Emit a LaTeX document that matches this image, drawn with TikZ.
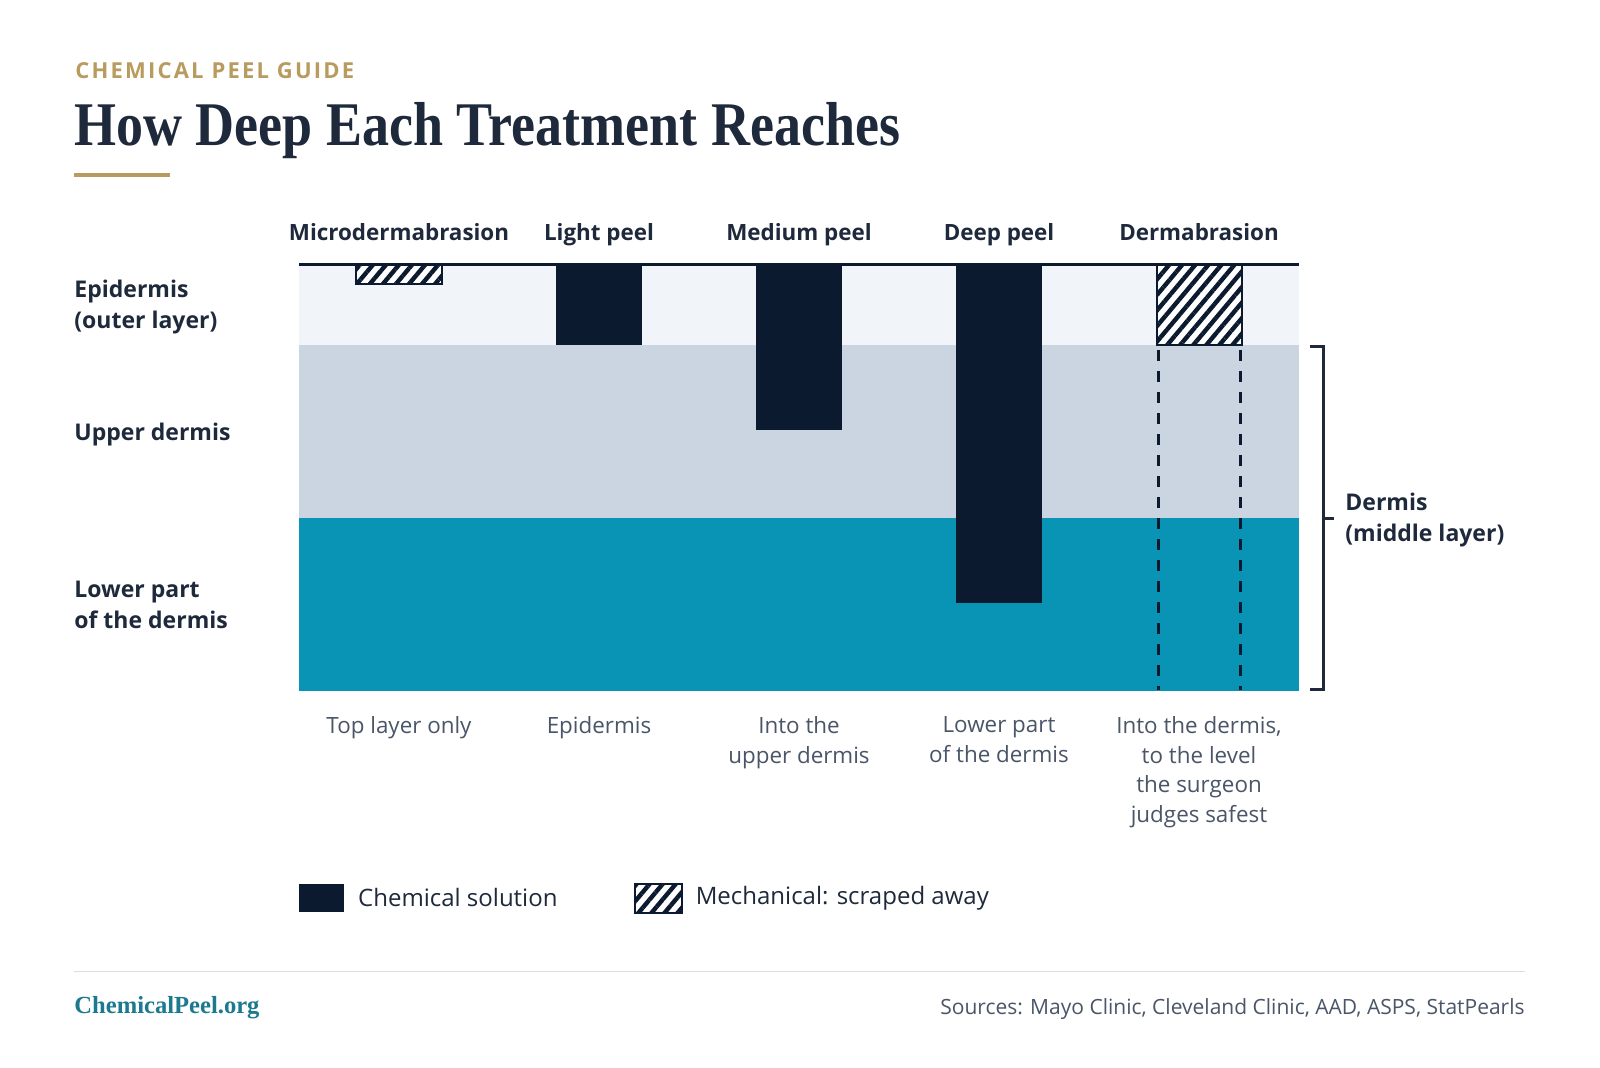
\documentclass[tikz,border=0pt]{standalone}
\usepackage{fontspec}
\setmainfont{Open Sans}
\newfontfamily\titleserif{Liberation Serif}
\newfontfamily\kickerfont[LetterSpace=10]{Open Sans}
\usetikzlibrary{positioning,patterns.meta}

\definecolor{navy}{HTML}{0B1A2E}
\definecolor{ink}{HTML}{1E293B}
\definecolor{slate}{HTML}{4A5568}
\definecolor{gold}{HTML}{B89B5E}
\definecolor{epiband}{HTML}{F1F5F9}
\definecolor{upperband}{HTML}{CBD5E1}
\definecolor{lowerband}{HTML}{0994B6}
\definecolor{siteteal}{HTML}{1B7A8E}
\definecolor{rulegray}{HTML}{DADDE1}

\begin{document}
\begin{tikzpicture}[x=0.5pt, y=-0.5pt,
  colhead/.style={font=\bfseries\fontsize{11.2}{14}\selectfont, text=ink, inner sep=0pt, anchor=base},
  layerlabel/.style={font=\bfseries\fontsize{11.5}{15.5}\selectfont, text=ink, inner sep=0pt, align=left},
  depthnote/.style={font=\fontsize{11.2}{14.8}\selectfont, text=slate, inner sep=0pt, align=center, anchor=north},
  keytext/.style={font=\fontsize{12}{14}\selectfont, text=ink, inner sep=0pt},
  chembar/.style={fill=navy},
  scraped/.style={preaction={fill=white}, pattern={Lines[angle=50,distance=5pt,line width=2.2pt]}, pattern color=navy, draw=navy, line width=1.2pt},
  cutline/.style={draw=navy, line width=1.5pt, dash pattern=on 5.5pt off 5pt},
  bracket/.style={draw=ink, line width=1.5pt}]
\useasboundingbox[fill=white] (0,0) rectangle (1600,1067);

% heading
\node[font=\kickerfont\bfseries\fontsize{11}{13}\selectfont, text=gold, inner sep=0pt, anchor=base west] (kicker) at (75,78.3) {CHEMICAL PEEL GUIDE};
\node[font=\titleserif\bfseries\fontsize{27}{30}\selectfont, text=ink, inner sep=0pt, anchor=base west] (title) at (74,145) {\scalebox{1}[1.15]{How Deep Each Treatment Reaches}};
\draw[gold, line width=2pt] (74,174.5) -- (170,174.5);

% skin layers
\fill[epiband] (299,265) rectangle (1299,345);
\fill[upperband] (299,345) rectangle (1299,518);
\fill[lowerband] (299,518) rectangle (1299,691);

% treatments
\foreach \cx/\depth in {599/345, 799/430, 999/603}
  \fill[chembar] (\cx-43,265) rectangle (\cx+43,\depth);
\draw[scraped] (356,265) rectangle (442,284);
\draw[scraped] (1157,265) rectangle (1242,345);
\draw[cutline] (1158,350) -- (1158,690);
\draw[cutline] (1240,350) -- (1240,690);
\draw[navy, line width=1.5pt] (299,264) -- (1299,264);

\foreach \cx/\txt [count=\i] in {399/Microdermabrasion, 599/Light peel, 799/Medium peel, 999/Deep peel, 1199/Dermabrasion}
  \node[colhead] (head\i) at (\cx,240.5) {\txt};

\foreach \cx/\txt [count=\i] in {399/{Top layer only}, 599/{Epidermis}, 799/{Into the\\upper dermis}, 999/{Lower part\\of the dermis}, 1199/{Into the dermis,\\to the level\\the surgeon\\judges safest}}
  \node[depthnote] (note\i) at (\cx,716) {\txt};

% layer names
\node[layerlabel, anchor=north west] (epi) at (74,280) {Epidermis\\(outer layer)};
\node[layerlabel, anchor=base west] (upper) at (74,440.5) {Upper dermis};
\node[layerlabel, anchor=north west] (lower) at (74,581) {Lower part\\of the dermis};

\draw[bracket] (1310,346) -- (1323,346) -- (1323,689) -- (1310,689);
\draw[bracket] (1323,518) -- (1334,518);
\node[layerlabel, anchor=north west] (dermis) at (1345,492.5) {Dermis\\(middle layer)};

% legend
\node[chembar, minimum width=22.5pt, minimum height=14pt, inner sep=0pt, anchor=north west] (chemkey) at (299,883.5) {};
\node[keytext, right=6.5pt of chemkey] (chemtext) {Chemical solution};
\node[scraped, minimum width=23.5pt, minimum height=14.5pt, inner sep=0pt, anchor=north west] (scrapekey) at (634,883) {};
\node[keytext, right=6pt of scrapekey] (scrapetext) {Mechanical: scraped away};

% footer
\draw[rulegray, line width=0.6pt] (74,971.5) -- (1525,971.5);
\node[font=\titleserif\bfseries\fontsize{12.3}{14}\selectfont, text=siteteal, inner sep=0pt, anchor=base west] (site) at (74,1013) {ChemicalPeel.org};
\node[font=\fontsize{10.5}{12}\selectfont, text=slate, inner sep=0pt, anchor=base east] (sources) at (1525,1014) {Sources: Mayo Clinic, Cleveland Clinic, AAD, ASPS, StatPearls};
\end{tikzpicture}
\end{document}
